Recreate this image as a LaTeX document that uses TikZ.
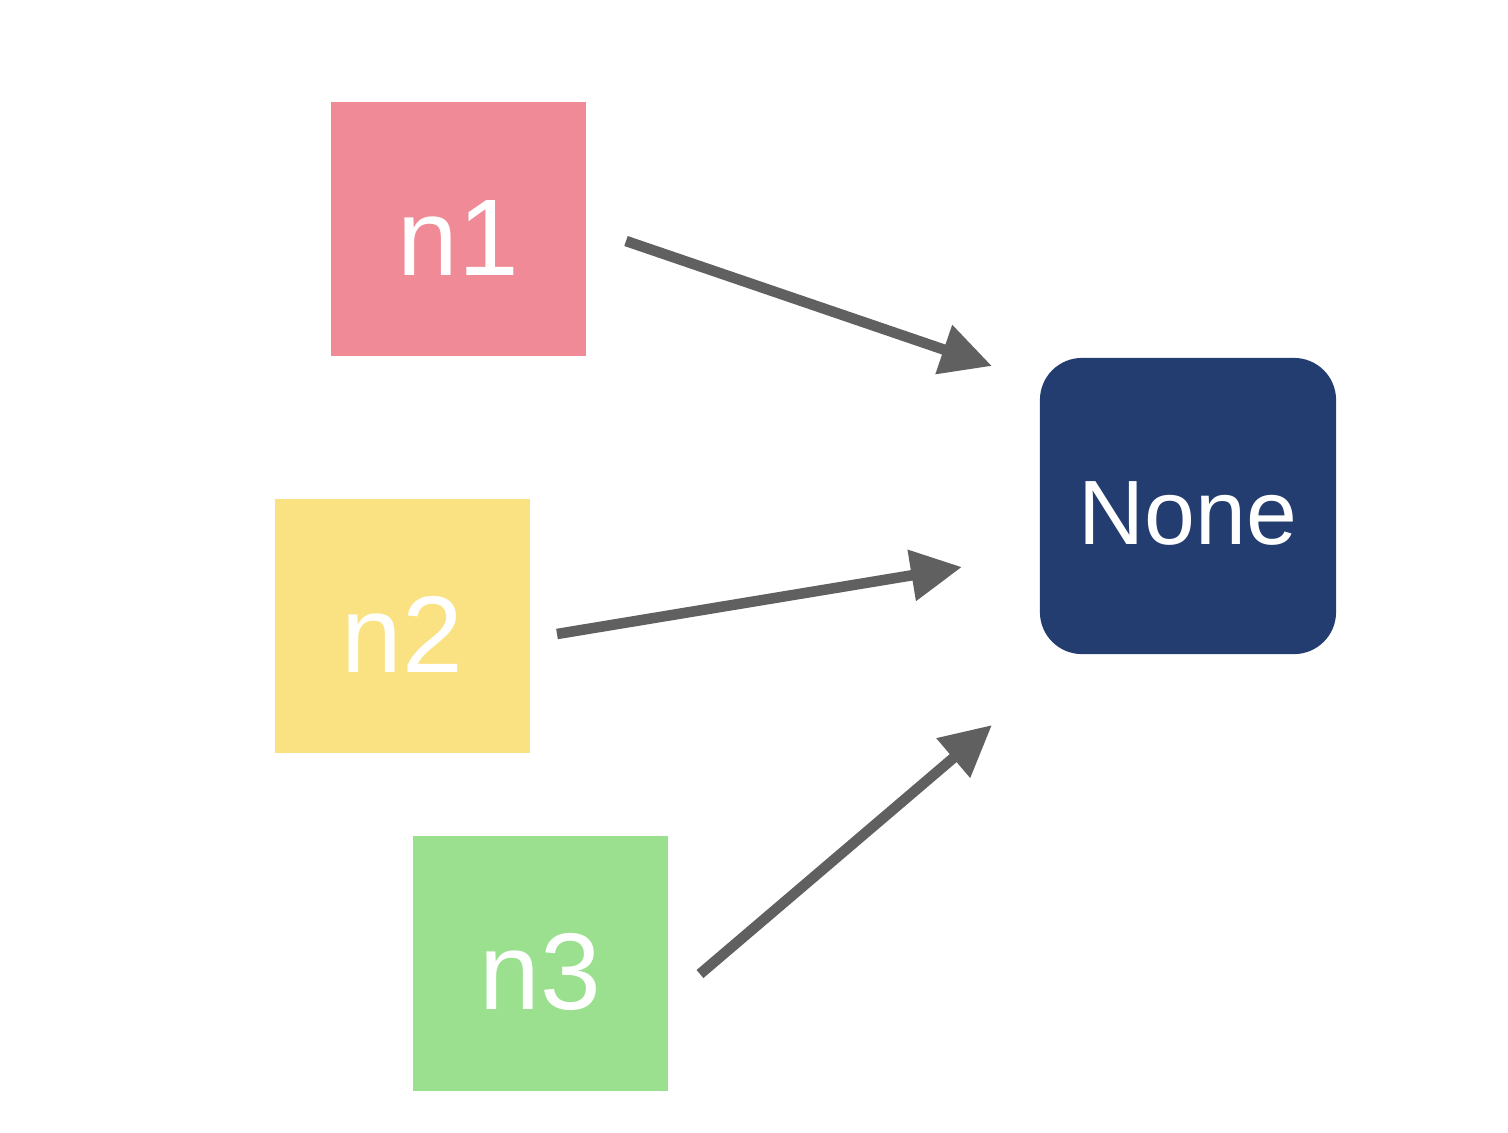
\documentclass[tikz,border=0pt]{standalone}
\usepackage{fontspec}
\setmainfont{Liberation Sans}
\usetikzlibrary{arrows.meta}
\definecolor{pinkc}{HTML}{EF8A96}
\definecolor{yellowc}{HTML}{FAE282}
\definecolor{greenc}{HTML}{9BE08E}
\definecolor{navyc}{HTML}{243D70}
\definecolor{arrowc}{HTML}{606060}
\begin{document}
\begin{tikzpicture}[x=0.01cm,y=-0.01cm,
  sq/.style={minimum width=2.55cm,minimum height=2.54cm,inner sep=0pt,text=white,font=\fontsize{31}{31}\selectfont},
  target/.style={minimum width=2.96cm,minimum height=2.96cm,inner sep=0pt,fill=navyc,rounded corners=0.42cm,text=white,font=\fontsize{26}{26}\selectfont},
  lbl/.style={text=white,inner sep=0pt},
  conn/.style={draw=arrowc,line width=3pt,-{Triangle[length=14.5pt,width=14pt]}}]
\useasboundingbox (0,0) rectangle (1508,1132);
\node[sq,fill=pinkc] (n1) at (458.5,229) {};
\node[sq,fill=yellowc] (n2) at (402.5,626) {};
\node[sq,fill=greenc] (n3) at (540.5,963.5) {};
\node[target] (none) at (1188,506) {};
\node[lbl,font=\fontsize{31}{31}\selectfont] (l1) at ([yshift=-0.085cm]n1.center) {n1};
\node[lbl,font=\fontsize{31}{31}\selectfont] (l2) at ([yshift=-0.085cm]n2.center) {n2};
\node[lbl,font=\fontsize{31}{31}\selectfont] (l3) at ([yshift=-0.085cm]n3.center) {n3};
\node[lbl,font=\fontsize{26}{26}\selectfont] (lN) at ([yshift=-0.07cm]none.center) {None};
\coordinate (s1) at (626,241);
\coordinate (t1) at (992,366);
\coordinate (s2) at (557,634);
\coordinate (t2) at (962,567);
\coordinate (s3) at (700,974);
\coordinate (t3) at (992,725);
\draw[conn] (s1) -- (t1);
\draw[conn] (s2) -- (t2);
\draw[conn] (s3) -- (t3);
\end{tikzpicture}
\end{document}
